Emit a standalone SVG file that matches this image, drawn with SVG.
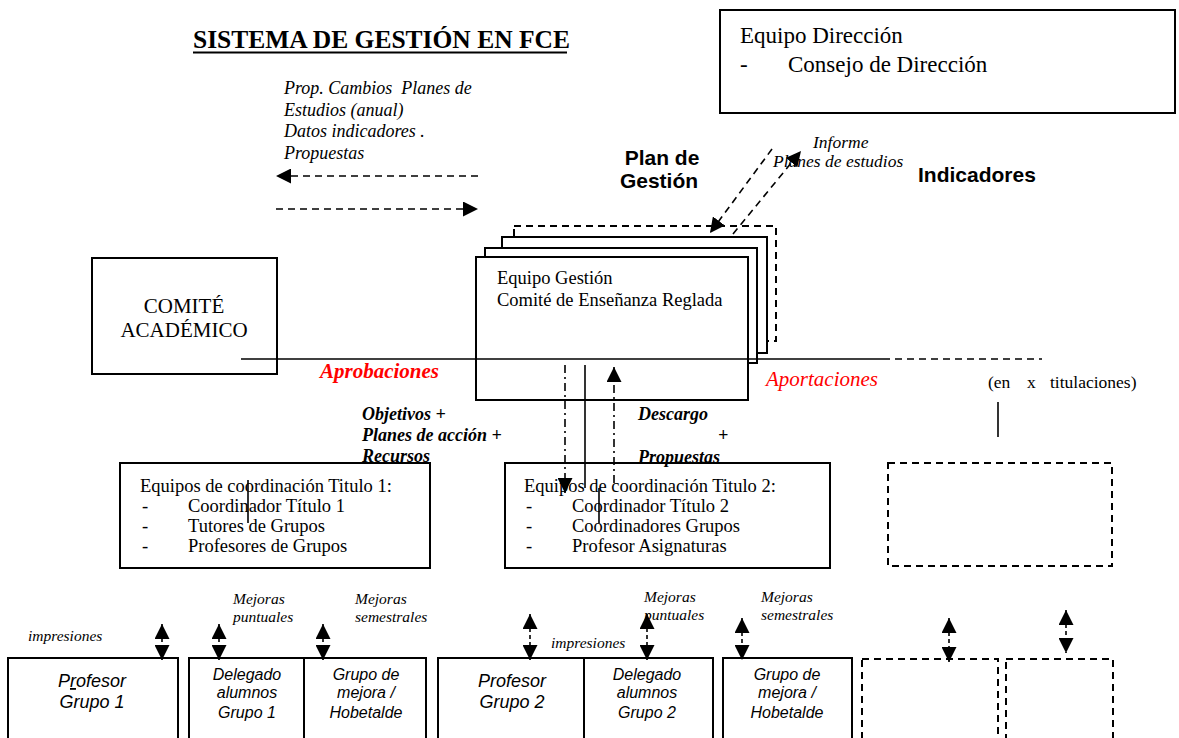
<svg xmlns="http://www.w3.org/2000/svg" width="1179" height="738" viewBox="0 0 1179 738">
<style>
.box{fill:#fff;stroke:#000;stroke-width:2}
.dbox{fill:#fff;stroke:#000;stroke-width:2;stroke-dasharray:7 5}
.ln{stroke:#000;stroke-width:1.6;fill:none}
.dl{stroke:#000;stroke-width:1.6;fill:none;stroke-dasharray:7 5}
.dd{stroke:#000;stroke-width:1.6;fill:none;stroke-dasharray:8 4 2 4}
.sm{stroke:#000;stroke-width:1.6;fill:none;stroke-dasharray:4 3}
.t{font-family:"Liberation Serif","Times New Roman",serif;fill:#000}
.a{font-family:"Liberation Sans",Arial,sans-serif;fill:#000}
.i{font-style:italic}
.b{font-weight:bold}
.red{fill:#ff0000}
.pre{white-space:pre}
</style>
<defs>
<marker id="ah" viewBox="0 0 10 10" refX="10" refY="5" markerUnits="userSpaceOnUse" markerWidth="15" markerHeight="15" orient="auto-start-reverse">
<path d="M0,0 L10,5 L0,10 z" fill="#000"/>
</marker>
</defs>
<rect width="1179" height="738" fill="#fff"/>

<g id="title">
<text class="t b" x="193" y="48" font-size="25.5">SISTEMA DE GESTIÓN EN FCE</text>
<line x1="193" y1="52.5" x2="567" y2="52.5" stroke="#000" stroke-width="2"/>
</g>

<g id="equipo-direccion">
<rect class="box" x="720" y="10" width="455" height="103"/>
<text class="t" x="740" y="43" font-size="23">Equipo Dirección</text>
<text class="t" x="740" y="72" font-size="23">-</text>
<text class="t" x="788" y="72" font-size="23">Consejo de Dirección</text>
</g>

<g id="labels-top">
<text class="t i pre" x="284" y="94" font-size="18" xml:space="preserve">Prop. Cambios  Planes de</text>
<text class="t i" x="284" y="116" font-size="18">Estudios (anual)</text>
<text class="t i" x="284" y="137" font-size="18">Datos indicadores .</text>
<text class="t i" x="284" y="159" font-size="18">Propuestas</text>
<text class="a b" x="662" y="165" font-size="21" text-anchor="middle">Plan de</text>
<text class="a b" x="659" y="188" font-size="21" text-anchor="middle">Gestión</text>
<text class="t i" x="813" y="148" font-size="17.5">Informe</text>
<text class="t i" x="773" y="167" font-size="17.5">Planes de estudios</text>
<text class="a b" x="918" y="182" font-size="21">Indicadores</text>
</g>

<g id="equipo-gestion">
<rect class="dbox" x="514" y="226" width="262" height="115"/>
<rect class="box" x="502" y="237" width="265" height="116"/>
<rect class="box" x="485" y="248" width="272" height="115"/>
<rect class="box" x="476" y="257" width="272" height="143"/>
<text class="t" x="497" y="284" font-size="18.5">Equipo Gestión</text>
<text class="t" x="497" y="306" font-size="18.5">Comité de Enseñanza Reglada</text>
</g>

<g id="comite-academico">
<rect class="box" x="92" y="258" width="185" height="116"/>
<text class="t" x="184" y="313" font-size="21" text-anchor="middle">COMITÉ</text>
<text class="t" x="184" y="337" font-size="21" text-anchor="middle">ACADÉMICO</text>
</g>

<g id="titulo1">
<rect class="box" x="120" y="463" width="310" height="105"/>
<text class="t" x="140" y="492" font-size="18.5">Equipos de coordinación Titulo 1:</text>
<text class="t" x="142" y="512" font-size="18.5">-</text>
<text class="t" x="188" y="512" font-size="18.5">Coordinador Título 1</text>
<text class="t" x="142" y="532" font-size="18.5">-</text>
<text class="t" x="188" y="532" font-size="18.5">Tutores de Grupos</text>
<text class="t" x="142" y="552" font-size="18.5">-</text>
<text class="t" x="188" y="552" font-size="18.5">Profesores de Grupos</text>
</g>

<g id="titulo2">
<rect class="box" x="505" y="463" width="325" height="105"/>
<text class="t" x="524" y="492" font-size="18.5">Equipos de coordinación Titulo 2:</text>
<text class="t" x="526" y="512" font-size="18.5">-</text>
<text class="t" x="572" y="512" font-size="18.5">Coordinador Título 2</text>
<text class="t" x="526" y="532" font-size="18.5">-</text>
<text class="t" x="572" y="532" font-size="18.5">Coordinadores Grupos</text>
<text class="t" x="526" y="552" font-size="18.5">-</text>
<text class="t" x="572" y="552" font-size="18.5">Profesor Asignaturas</text>
</g>

<g id="titulo-x">
<rect class="dbox" x="888" y="463" width="224" height="103" fill="none"/>
</g>

<g id="mid-labels">
<text class="t b i red" x="320" y="378" font-size="21">Aprobaciones</text>
<text class="t i red" x="766" y="386" font-size="21">Aportaciones</text>
<text class="t" x="988" y="388" font-size="17.5">(en</text>
<text class="t" x="1027" y="388" font-size="17.5">x</text>
<text class="t" x="1050" y="388" font-size="17.5">titulaciones)</text>
<text class="t b i" x="362" y="420" font-size="18">Objetivos +</text>
<text class="t b i" x="362" y="441" font-size="18">Planes de acción +</text>
<text class="t b i" x="362" y="462" font-size="18">Recursos</text>
<text class="t b i" x="638" y="420" font-size="18">Descargo</text>
<text class="t b i" x="718" y="441" font-size="18">+</text>
<text class="t b i" x="638" y="463" font-size="18">Propuestas</text>
</g>

<g id="bottom-boxes">
<g id="profesor1">
<rect class="box" x="8" y="658" width="170" height="90"/>
<text class="a i" x="92" y="687" font-size="18" text-anchor="middle">P<tspan text-decoration="underline">r</tspan>ofesor</text>
<text class="a i" x="92" y="708" font-size="18" text-anchor="middle">Grupo 1</text>
</g>
<g id="delegado1">
<rect class="box" x="189" y="658" width="115" height="90"/>
<text class="a i" x="247" y="680" font-size="16" text-anchor="middle">Delegado</text>
<text class="a i" x="247" y="698" font-size="16" text-anchor="middle">alumnos</text>
<text class="a i" x="247" y="718" font-size="16" text-anchor="middle">Grupo 1</text>
</g>
<g id="mejora1">
<rect class="box" x="304" y="658" width="122" height="90"/>
<text class="a i" x="366" y="680" font-size="16" text-anchor="middle">Grupo de</text>
<text class="a i" x="366" y="698" font-size="16" text-anchor="middle">mejora /</text>
<text class="a i" x="366" y="718" font-size="16" text-anchor="middle">Hobetalde</text>
</g>
<g id="profesor2">
<rect class="box" x="438" y="658" width="146" height="90"/>
<text class="a i" x="512" y="687" font-size="18" text-anchor="middle">Profesor</text>
<text class="a i" x="512" y="708" font-size="18" text-anchor="middle">Grupo 2</text>
</g>
<g id="delegado2">
<rect class="box" x="584" y="658" width="129" height="90"/>
<text class="a i" x="647" y="680" font-size="16" text-anchor="middle">Delegado</text>
<text class="a i" x="647" y="698" font-size="16" text-anchor="middle">alumnos</text>
<text class="a i" x="647" y="718" font-size="16" text-anchor="middle">Grupo 2</text>
</g>
<g id="mejora2">
<rect class="box" x="723" y="658" width="129" height="90"/>
<text class="a i" x="787" y="680" font-size="16" text-anchor="middle">Grupo de</text>
<text class="a i" x="787" y="698" font-size="16" text-anchor="middle">mejora /</text>
<text class="a i" x="787" y="718" font-size="16" text-anchor="middle">Hobetalde</text>
</g>
<g id="dashed-a">
<rect class="dbox" x="862" y="659" width="136" height="90"/>
</g>
<g id="dashed-b">
<rect class="dbox" x="1006" y="659" width="107" height="90"/>
</g>
</g>

<g id="bottom-labels">
<text class="t i" x="28" y="641" font-size="15.5">impresiones</text>
<text class="t i" x="233" y="604" font-size="15.5">Mejoras</text>
<text class="t i" x="233" y="622" font-size="15.5">puntuales</text>
<text class="t i" x="355" y="604" font-size="15.5">Mejoras</text>
<text class="t i" x="355" y="622" font-size="15.5">semestrales</text>
<text class="t i" x="551" y="648" font-size="15.5">impresiones</text>
<text class="t i" x="644" y="602" font-size="15.5">Mejoras</text>
<text class="t i" x="644" y="620" font-size="15.5">puntuales</text>
<text class="t i" x="761" y="602" font-size="15.5">Mejoras</text>
<text class="t i" x="761" y="620" font-size="15.5">semestrales</text>
</g>

<g id="connectors">
<line class="dl" x1="478" y1="176" x2="276" y2="176" marker-end="url(#ah)"/>
<line class="dl" x1="276" y1="209" x2="478" y2="209" marker-end="url(#ah)"/>
<line class="dl" x1="772" y1="149" x2="710" y2="233" marker-end="url(#ah)"/>
<line class="dl" x1="733" y1="234" x2="801" y2="151" marker-end="url(#ah)"/>
<line class="ln" x1="241" y1="359" x2="883" y2="359"/>
<line class="dl" x1="883" y1="359" x2="1042" y2="359"/>
<line class="ln" x1="998" y1="402" x2="998" y2="437"/>
<line class="dd" x1="565" y1="365" x2="565" y2="493" marker-end="url(#ah)"/>
<line class="ln" x1="585" y1="365" x2="585" y2="488"/>
<line class="ln" x1="599" y1="488" x2="599" y2="523"/>
<line class="dd" x1="614" y1="483" x2="614" y2="367" marker-end="url(#ah)"/>
<line class="ln" x1="248" y1="480" x2="248" y2="523"/>
<line class="sm" x1="162" y1="624" x2="162" y2="660" marker-start="url(#ah)" marker-end="url(#ah)"/>
<line class="sm" x1="219" y1="624" x2="219" y2="660" marker-start="url(#ah)" marker-end="url(#ah)"/>
<line class="sm" x1="323" y1="624" x2="323" y2="660" marker-start="url(#ah)" marker-end="url(#ah)"/>
<line class="sm" x1="530" y1="614" x2="530" y2="660" marker-start="url(#ah)" marker-end="url(#ah)"/>
<line class="sm" x1="647" y1="614" x2="647" y2="660" marker-start="url(#ah)" marker-end="url(#ah)"/>
<line class="sm" x1="742" y1="618" x2="742" y2="660" marker-start="url(#ah)" marker-end="url(#ah)"/>
<line class="sm" x1="949" y1="618" x2="949" y2="662" marker-start="url(#ah)" marker-end="url(#ah)"/>
<line class="sm" x1="1066" y1="610" x2="1066" y2="653" marker-start="url(#ah)" marker-end="url(#ah)"/>
</g>
</svg>
